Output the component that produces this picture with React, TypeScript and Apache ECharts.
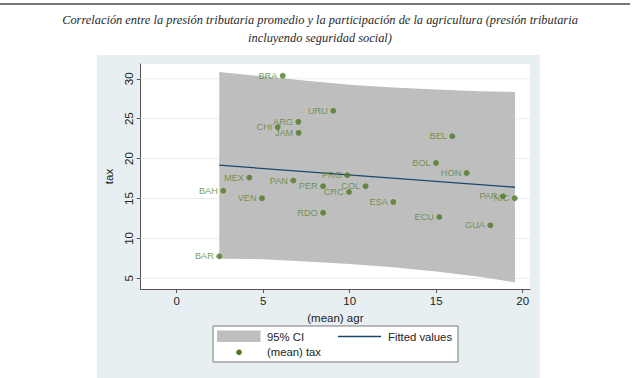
import React, { useEffect, useRef } from "react";
import * as echarts from "echarts";

const countries = ["BRA", "URU", "ARG", "CHI", "JAM", "MEX", "PAN", "BAH", "VEN", "PER", "PRG", "CRC", "COL", "RDO", "BAR", "ESA", "ECU", "GUA", "PAR", "NIC", "BEL", "BOL", "HON"];
const agr = [6.13, 9.05, 7.03, 5.84, 7.05, 4.2, 6.74, 2.69, 4.93, 8.46, 9.86, 9.96, 10.92, 8.46, 2.46, 12.52, 15.18, 18.13, 18.86, 19.54, 15.93, 14.99, 16.76];
const tax = [30.38, 25.98, 24.6, 23.94, 23.22, 17.62, 17.24, 15.98, 15.03, 16.54, 17.92, 15.82, 16.54, 13.22, 7.75, 14.57, 12.69, 11.64, 15.28, 15.03, 22.81, 19.46, 18.2];

const bandX = [2.46, 5, 7.5, 10, 12.5, 15, 17.5, 19.55];
const bandUpper = [30.85, 30.3, 29.75, 29.25, 28.9, 28.65, 28.45, 28.35];
const bandLower = [7.45, 7.4, 7.1, 6.8, 6.4, 5.85, 5.2, 4.5];

const fitX = [2.46, 19.55];
const fitY = [19.17, 16.41];

const xTicks = [0, 5, 10, 15, 20];
const yTicks = [5, 10, 15, 20, 25, 30];

const X_MIN = -2.08;
const X_MAX = 20.42;
const Y_MIN = 3.66;
const Y_MAX = 31.85;

const titleLine1 =
  "Correlación entre la presión tributaria promedio y la participación de la agricultura (presión tributaria";
const titleLine2 = "incluyendo seguridad social)";

const SANS = "'Liberation Sans', Arial, Helvetica, sans-serif";
const SERIF = "'Liberation Serif', 'DejaVu Serif', serif";
const MARKER = "#4B7A22";
const LABEL = "#5A8534";
const NAVY = "#1A476F";
const BAND = "#BEBEBE";

export default function App() {
  const ref = useRef<HTMLDivElement>(null);
  useEffect(() => {
    if (!ref.current) return;
    const chart = echarts.init(ref.current, null, { renderer: "svg" });
    const scatterData = countries.map((c, i) => ({ name: c, value: [agr[i], tax[i]] }));
    const titleFont = `italic 12.4px ${SERIF}`;
    const option: any = {
      animation: false,
      backgroundColor: "#ffffff",
      graphic: [
        {
          type: "line",
          z: -50,
          shape: { x1: 0, y1: 4, x2: 630, y2: 4 },
          style: { stroke: "#4a4a4a", lineWidth: 1.5 },
        },
        {
          type: "text",
          x: 320,
          y: 20,
          style: { text: titleLine1, font: titleFont, fill: "#2a2a2a", textAlign: "center", textVerticalAlign: "middle" },
        },
        {
          type: "text",
          x: 320,
          y: 37.5,
          style: { text: titleLine2, font: titleFont, fill: "#2a2a2a", textAlign: "center", textVerticalAlign: "middle" },
        },
        {
          type: "rect",
          z: -100,
          shape: { x: 97, y: 55, width: 443, height: 323 },
          style: { fill: "#E8EFF2" },
        },
        {
          type: "group",
          z: 50,
          children: [
            {
              type: "rect",
              shape: { x: 213, y: 326, width: 245, height: 36 },
              style: { fill: "#ffffff", stroke: "#7a7a7a", lineWidth: 1 },
            },
            {
              type: "rect",
              shape: { x: 217, y: 330.5, width: 43.5, height: 11.5 },
              style: { fill: BAND },
            },
            {
              type: "text",
              x: 267,
              y: 336.5,
              style: { text: "95% CI", fill: "#222", font: `11.3px ${SANS}`, textVerticalAlign: "middle" },
            },
            {
              type: "line",
              shape: { x1: 338, y1: 336.5, x2: 381, y2: 336.5 },
              style: { stroke: NAVY, lineWidth: 1.3 },
            },
            {
              type: "text",
              x: 388,
              y: 336.5,
              style: { text: "Fitted values", fill: "#222", font: `11.3px ${SANS}`, textVerticalAlign: "middle" },
            },
            {
              type: "circle",
              shape: { cx: 239, cy: 352.3, r: 2.8 },
              style: { fill: MARKER },
            },
            {
              type: "text",
              x: 267,
              y: 352.3,
              style: { text: "(mean) tax", fill: "#222", font: `11.3px ${SANS}`, textVerticalAlign: "middle" },
            },
          ],
        },
      ],
      grid: {
        left: 140.7,
        right: 110,
        top: 64,
        bottom: 89,
        show: true,
        backgroundColor: "#ffffff",
        borderWidth: 0,
      },
      xAxis: {
        type: "value",
        min: X_MIN,
        max: X_MAX,
        name: "(mean) agr",
        nameLocation: "middle",
        nameGap: 19,
        nameTextStyle: { fontFamily: SANS, fontSize: 11.5, color: "#222" },
        axisLine: { show: true, onZero: false, lineStyle: { color: "#555", width: 1 } },
        axisTick: { show: true, customValues: xTicks, length: 4, lineStyle: { color: "#555" } },
        axisLabel: { customValues: xTicks, fontFamily: SANS, fontSize: 11.5, color: "#222", margin: 6 },
        splitLine: { show: false },
      },
      yAxis: {
        type: "value",
        min: Y_MIN,
        max: Y_MAX,
        name: "tax",
        nameLocation: "middle",
        nameGap: 20,
        nameRotate: 90,
        nameTextStyle: { fontFamily: SANS, fontSize: 11.5, color: "#222" },
        axisLine: { show: true, onZero: false, lineStyle: { color: "#555", width: 1 } },
        axisTick: { show: true, customValues: yTicks, length: 4, lineStyle: { color: "#555" } },
        axisLabel: { customValues: yTicks, rotate: 90, fontFamily: SANS, fontSize: 11.5, color: "#222", margin: 6 },
        splitLine: { show: false },
      },
      series: [
        {
          type: "custom",
          z: 1,
          silent: true,
          data: [[bandX[0], bandUpper[0]]],
          renderItem: (params: any, api: any) => {
            const children: any[] = [];
            yTicks.forEach((t) => {
              const a = api.coord([X_MIN, t]);
              const b = api.coord([X_MAX, t]);
              children.push({
                type: "line",
                shape: { x1: a[0], y1: a[1], x2: b[0], y2: b[1] },
                style: { stroke: "#E7EEF1", lineWidth: 1 },
              });
            });
            const pts: number[][] = [];
            for (let i = 0; i < bandX.length; i++) pts.push(api.coord([bandX[i], bandUpper[i]]));
            for (let i = bandX.length - 1; i >= 0; i--) pts.push(api.coord([bandX[i], bandLower[i]]));
            children.push({ type: "polygon", shape: { points: pts }, style: { fill: BAND } });
            return { type: "group", children };
          },
        },
        {
          type: "line",
          z: 2,
          silent: true,
          symbol: "none",
          data: fitX.map((x, i) => [x, fitY[i]]),
          lineStyle: { color: NAVY, width: 1.3 },
        },
        {
          type: "scatter",
          z: 3,
          symbol: "circle",
          symbolSize: 5.8,
          data: scatterData,
          itemStyle: { color: MARKER },
          label: {
            show: true,
            position: "left",
            distance: 2.5,
            formatter: (p: any) => p.name,
            fontFamily: SANS,
            fontSize: 9.2,
            color: LABEL,
          },
          labelLayout: { hideOverlap: false },
        },
      ],
    };
    chart.setOption(option);
    return () => chart.dispose();
  }, []);
  return (
    <div
      ref={ref}
      style={{ position: "fixed", left: 0, top: 0, width: 640, height: 378 }}
    />
  );
}
